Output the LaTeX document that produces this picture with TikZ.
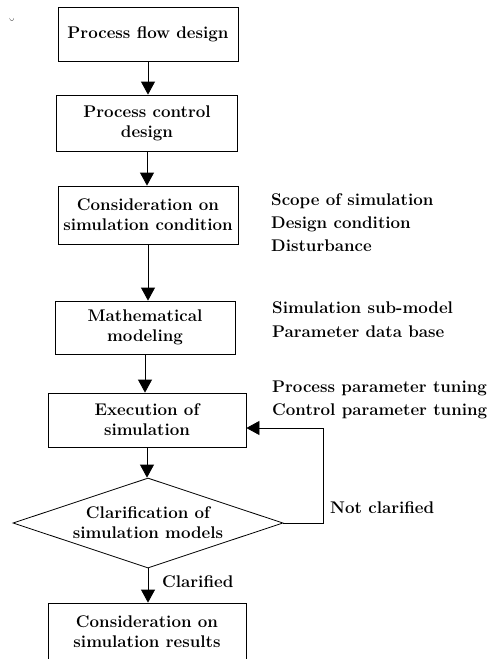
\documentclass[tikz,border=0pt]{standalone}
\usepackage{fontspec}
\usetikzlibrary{shapes.geometric,arrows.meta}
\begin{document}
\begin{tikzpicture}[x=1pt,y=-1pt,
  every node/.style={font=\fontsize{16.9}{20}\selectfont\bfseries},
  box/.style={draw, line width=0.8pt, align=center, inner sep=0pt},
  arr/.style={line width=0.8pt, -{Triangle[length=13pt,width=14pt]}},
  side/.style={anchor=base west, inner sep=0pt}]
\useasboundingbox (0,0) rectangle (500,659);
\clip (0,0) rectangle (500,659);
\node[box, minimum width=180pt, minimum height=54pt] (b1) at (148,34) {Process flow design};
\node[box, minimum width=181pt, minimum height=56pt] (b2) at (147,123) {Process control\\design};
\node[box, minimum width=180pt, minimum height=58pt] (b3) at (148,215) {Consideration on\\simulation condition};
\node[box, minimum width=180pt, minimum height=53pt] (b4) at (145,327.5) {Mathematical\\modeling};
\node[box, minimum width=198pt, minimum height=54pt] (b5) at (147,420) {Execution of\\simulation};
\node[draw, diamond, line width=0.8pt, aspect=3, minimum width=270pt, minimum height=90pt, inner sep=0pt, align=center] (d) at (148,523) {Clarification of\\simulation models};
\node[box, minimum width=198pt, minimum height=58pt] (b6) at (147,632) {Consideration on\\simulation results};
\node[inner sep=0pt, font=\fontsize{16}{16}\selectfont] (br) at (12,24) {\u{}};
\node[side] (s1) at (271,205) {Scope of simulation};
\node[side] (s2) at (271,228) {Design condition};
\node[side] (s3) at (271,251) {Disturbance};
\node[side] (s4) at (272,313) {Simulation sub-model};
\node[side] (s5) at (272,337) {Parameter data base};
\node[side] (s6) at (272,392) {Process parameter tuning};
\node[side] (s7) at (272,415) {Control parameter tuning};
\node[side] (nc) at (330,513) {Not clarified};
\node[side] (cl) at (162,587) {Clarified};
\draw[arr] (b1.south) -- (b1.south |- b2.north);
\draw[arr] (b2.south) -- (b2.south |- b3.north);
\draw[arr] (b3.south) -- (b3.south |- b4.north);
\draw[arr] (b4.south) -- (b4.south |- b5.north);
\draw[arr] (b5.south) -- (b5.south |- d.north);
\draw[arr] (d.south) -- (d.south |- b6.north);
\coordinate (fb) at (323,428);
\draw[arr] (d.east) -| (fb) -- (b5.east |- fb);
\end{tikzpicture}
\end{document}
